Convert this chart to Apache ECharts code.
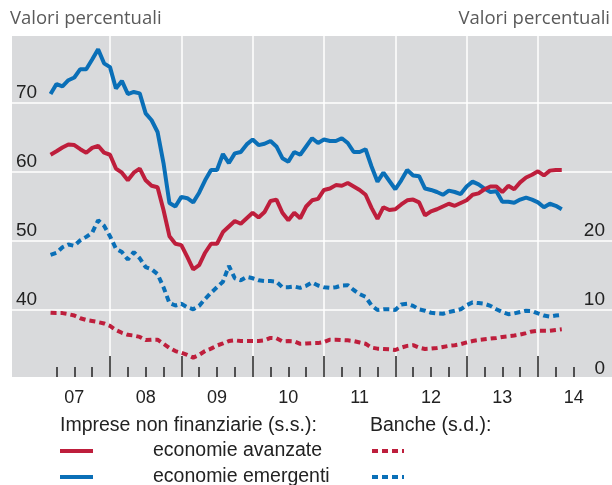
<!DOCTYPE html>
<html>
<head>
<meta charset="utf-8">
<script src="https://cdn.jsdelivr.net/npm/echarts@6/dist/echarts.min.js"></script>
<style>
html, body { margin: 0; padding: 0; background: #fff; }
#chart { width: 612px; height: 485px; }
</style>
</head>
<body>
<div id="chart"></div>
<script>
// Monthly data, March 2007 - May 2014
const firstYear = 2007;
const firstMonth = 3;

// Imprese non finanziarie (left scale)
const impreseAvanzate = [
    62.5, 63.0, 63.55, 64.0, 63.9, 63.3, 62.8, 63.5, 63.8, 62.8, 62.5,
    60.5, 59.9, 58.8, 59.9, 60.5, 58.8, 58.0, 57.8, 54.5, 50.7, 49.6, 49.4, 47.7, 45.9, 46.5,
    48.3, 49.6, 49.6, 51.3, 52.1, 52.9, 52.5, 53.3, 54.1, 53.4, 54.2, 55.8, 56.0, 54.1, 53.0,
    54.1, 53.3, 55.0, 55.9, 56.1, 57.4, 57.6, 58.1, 58.0, 58.4, 57.9, 57.4, 56.7, 54.8,
    53.2, 54.9, 54.5, 54.6, 55.3, 55.9, 56.0, 55.6, 53.7, 54.3, 54.6, 55.0, 55.4, 55.1, 55.5,
    55.9, 56.7, 56.9, 57.5, 57.9, 57.9, 57.1, 58.0, 57.5, 58.5, 59.2, 59.6, 60.1, 59.5, 60.2, 60.3, 60.3
];
const impreseEmergenti = [
    71.3, 72.75, 72.4, 73.3, 73.7, 74.9, 74.9, 76.3, 77.8, 75.75, 75.2,
    72.1, 73.2, 71.3, 71.6, 71.4, 68.5, 67.5, 65.8, 61.3, 55.5, 55.0, 56.4, 56.2, 55.6, 57.0,
    58.8, 60.3, 60.3, 62.6, 61.3, 62.7, 62.9, 64.0, 64.7, 63.9, 64.1, 64.5, 63.7, 62.0, 61.5,
    62.9, 62.5, 63.7, 64.9, 64.2, 64.7, 64.5, 64.5, 64.9, 64.2, 62.9, 62.9, 63.3, 60.8,
    58.6, 59.9, 58.7, 57.5, 58.8, 60.3, 59.5, 59.4, 57.6, 57.4, 57.1, 56.7, 57.3, 57.1, 56.8,
    57.9, 58.6, 58.2, 57.6, 57.1, 57.2, 55.7, 55.7, 55.55, 56.0, 56.3, 56.0, 55.6, 54.9, 55.4, 55.1, 54.6
];

// Banche (right scale)
const bancheAvanzate = [
    9.6, 9.55, 9.55, 9.4, 9.2, 8.8, 8.55, 8.4, 8.25, 8.05, 7.7,
    7.1, 6.7, 6.4, 6.3, 6.1, 5.65, 5.7, 5.7, 5.1, 4.5, 4.05, 3.8, 3.5, 3.1, 3.5,
    4.05, 4.4, 4.85, 5.15, 5.5, 5.6, 5.5, 5.5, 5.5, 5.5, 5.6, 5.95, 5.9, 5.45, 5.5, 5.45, 5.1,
    5.15, 5.2, 5.2, 5.35, 5.7, 5.7, 5.65, 5.6, 5.5, 5.3, 5.1, 4.55,
    4.4, 4.35, 4.3, 4.2, 4.55, 4.8, 4.9, 4.55, 4.35, 4.4, 4.5, 4.65, 4.8, 4.9, 5.05,
    5.3, 5.5, 5.65, 5.75, 5.85, 5.95, 6.1, 6.2, 6.3, 6.45, 6.65, 6.9, 7.0, 7.0, 7.0, 7.1, 7.2
];
const bancheEmergenti = [
    18.0, 18.3, 19.1, 19.5, 19.3, 20.1, 20.6, 21.2, 23.0, 22.2, 20.7,
    18.9, 18.4, 17.3, 18.4, 17.5, 16.2, 15.9, 15.2, 13.3, 11.0, 10.65, 10.9, 10.4, 10.1, 10.6,
    11.6, 12.5, 13.3, 14.1, 16.4, 14.6, 14.3, 14.8, 14.6, 14.3, 14.2, 14.2, 14.1, 13.3, 13.3, 13.4, 13.2,
    13.5, 14.0, 13.55, 13.3, 13.2, 13.3, 13.55, 13.6, 12.9, 12.3, 11.9, 10.65,
    10.0, 10.1, 10.1, 10.0, 10.8, 10.9, 10.6, 10.1, 9.9, 9.6, 9.5, 9.45, 9.7, 9.9, 10.1,
    10.7, 11.1, 11.0, 10.9, 10.6, 10.1, 9.7, 9.4, 9.5, 9.7, 9.9, 9.85, 9.5, 9.2, 9.05, 9.2, 9.3
];

const yearLabels = ['07', '08', '09', '10', '11', '12', '13', '14'];
const axisTitle = 'Valori percentuali';
const legendHeaders = ['Imprese non finanziarie (s.s.):', 'Banche (s.d.):'];
const legendNames = ['economie avanzate', 'economie emergenti'];

// Styles
const RED = '#BE1E3C';
const BLUE = '#0A6FB7';
const BG = '#D9DADC';
const TEXT = '#222222';
const FONT = '"Liberation Sans", Arial, sans-serif';
const TITLE_FONT = '18.5px "Open Sans", sans-serif';
const DOTS = [6, 4];

// Horizontal layout: one year = 71.33 px, Jan 2007 at x = 38.67
const X2007 = 38.67;
const PX_YEAR = 71.33;
function xPos(year) { return X2007 + (year - 2007) * PX_YEAR; }
function yearGrid(from, to, top, height) {
    return { left: xPos(from), width: xPos(to) - xPos(from), top: top, height: height };
}

function toPoints(values) {
    return values.map((v, i) => [firstYear + (firstMonth - 1 + i) / 12, v]);
}

const chart = echarts.init(document.getElementById('chart'));

const option = {
    animation: false,
    grid: [
        // gray panel
        { left: 12, right: 0, top: 36, height: 341, show: true, backgroundColor: BG, borderWidth: 0 },
        // value axes (30 at bottom line, 80 at top)
        { left: 12, right: 0, top: 34, height: 345 },
        // data
        yearGrid(2007, 2015, 34, 345),
        // year ticks and vertical lines
        yearGrid(2008, 2014, 36, 341),
        // quarter ticks and year labels
        yearGrid(2007.25, 2014.5, 36, 341)
    ],
    xAxis: [
        { gridIndex: 0, type: 'value', show: false, min: 0, max: 1 },
        { gridIndex: 1, type: 'value', show: false, min: 0, max: 1 },
        { gridIndex: 2, type: 'value', show: false, min: 2007, max: 2015 },
        {
            gridIndex: 3, type: 'value', min: 2008, max: 2014, interval: 1,
            axisLine: { show: false },
            axisTick: { show: true, inside: true, length: 21, lineStyle: { color: TEXT, width: 1.5 } },
            axisLabel: { show: false },
            splitLine: { show: true, lineStyle: { color: '#fff', width: 1.5 } }
        },
        {
            gridIndex: 4, type: 'value', min: 2007.25, max: 2014.5, interval: 0.25,
            axisLine: { show: false },
            axisTick: { show: true, inside: true, length: 10, lineStyle: { color: TEXT, width: 1.5 } },
            splitLine: { show: false },
            axisLabel: {
                show: true, margin: 12, color: TEXT, fontSize: 18, fontFamily: FONT,
                showMinLabel: true, showMaxLabel: true,
                formatter: function (v) {
                    return (v % 1 === 0.5) ? yearLabels[Math.floor(v) - 2007] : '';
                }
            }
        }
    ],
    yAxis: [
        { gridIndex: 0, type: 'value', show: false, min: 0, max: 1 },
        {
            gridIndex: 1, type: 'value', position: 'left', min: 30, max: 80, interval: 10,
            axisLine: { show: false },
            axisTick: { show: false },
            splitLine: { show: true, showMinLine: false, showMaxLine: false, lineStyle: { color: '#fff', width: 1.5 } },
            axisLabel: {
                inside: true, margin: 4, color: TEXT, fontSize: 19, fontFamily: FONT,
                verticalAlign: 'bottom', padding: [0, 0, 1, 0],
                formatter: v => (v > 30 && v < 80) ? String(v) : ''
            }
        },
        {
            gridIndex: 1, type: 'value', position: 'right', min: 0, max: 50, interval: 10,
            axisLine: { show: false },
            axisTick: { show: false },
            splitLine: { show: false },
            axisLabel: {
                inside: true, margin: 7, color: TEXT, fontSize: 19, fontFamily: FONT,
                verticalAlign: 'bottom', padding: [0, 0, 1, 0],
                formatter: v => (v <= 20) ? String(v) : ''
            }
        },
        { gridIndex: 2, type: 'value', show: false, min: 30, max: 80 },
        { gridIndex: 2, type: 'value', show: false, min: 0, max: 50 },
        { gridIndex: 3, type: 'value', show: false, min: 0, max: 1 },
        { gridIndex: 4, type: 'value', show: false, min: 0, max: 1 }
    ],
    series: [
        {
            name: 'Banche - economie avanzate', type: 'line', xAxisIndex: 2, yAxisIndex: 4,
            data: toPoints(bancheAvanzate), showSymbol: false,
            lineStyle: { color: RED, width: 4, type: DOTS, cap: 'butt' }
        },
        {
            name: 'Banche - economie emergenti', type: 'line', xAxisIndex: 2, yAxisIndex: 4,
            data: toPoints(bancheEmergenti), showSymbol: false,
            lineStyle: { color: BLUE, width: 4, type: DOTS, cap: 'butt' }
        },
        {
            name: 'Imprese - economie emergenti', type: 'line', xAxisIndex: 2, yAxisIndex: 3,
            data: toPoints(impreseEmergenti), showSymbol: false,
            lineStyle: { color: BLUE, width: 4 }
        },
        {
            name: 'Imprese - economie avanzate', type: 'line', xAxisIndex: 2, yAxisIndex: 3,
            data: toPoints(impreseAvanzate), showSymbol: false,
            lineStyle: { color: RED, width: 4 }
        }
    ],
    graphic: [
        // axis titles
        { type: 'text', left: 10, top: 9, style: { text: axisTitle, fill: '#5a5a5a', font: TITLE_FONT } },
        { type: 'text', right: 2, top: 9, style: { text: axisTitle, fill: '#5a5a5a', font: TITLE_FONT } },
        // legend
        { type: 'text', x: 60, y: 426, style: { text: legendHeaders[0], fill: TEXT, font: '19.5px ' + FONT, verticalAlign: 'middle' } },
        { type: 'text', x: 370, y: 426, style: { text: legendHeaders[1], fill: TEXT, font: '19.5px ' + FONT, verticalAlign: 'middle' } },
        { type: 'line', shape: { x1: 60, y1: 451, x2: 93, y2: 451 }, style: { stroke: RED, lineWidth: 4 } },
        { type: 'text', x: 153, y: 451, style: { text: legendNames[0], fill: TEXT, font: '19.5px ' + FONT, verticalAlign: 'middle' } },
        { type: 'line', shape: { x1: 372, y1: 451, x2: 404, y2: 451 }, style: { stroke: RED, lineWidth: 4, lineDash: DOTS } },
        { type: 'line', shape: { x1: 60, y1: 477, x2: 93, y2: 477 }, style: { stroke: BLUE, lineWidth: 4 } },
        { type: 'text', x: 153, y: 477, style: { text: legendNames[1], fill: TEXT, font: '19.5px ' + FONT, verticalAlign: 'middle' } },
        { type: 'line', shape: { x1: 372, y1: 477, x2: 404, y2: 477 }, style: { stroke: BLUE, lineWidth: 4, lineDash: DOTS } }
    ]
};

chart.setOption(option);
</script>
</body>
</html>
